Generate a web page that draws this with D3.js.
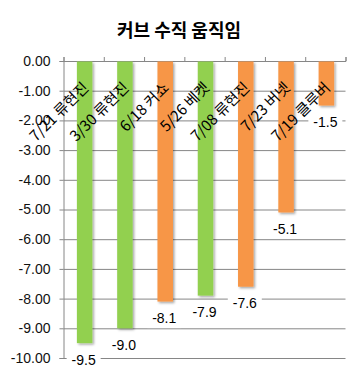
<!DOCTYPE html>
<html><head><meta charset="utf-8">
<script src="https://cdn.jsdelivr.net/npm/d3@7"></script>
<style>
html,body{margin:0;padding:0;background:#fff;}
svg{display:block;}
</style></head>
<body>
<svg id="c" width="360" height="375"></svg>
<script>
const title = "커브 수직 움직임";
const categories = ["7/21 류현진","3/30 류현진","6/18 커쇼","5/26 베켓","7/08 류현진","7/23 버넷","7/19 클루버"];
const values = [-9.5,-9.0,-8.1,-7.9,-7.6,-5.1,-1.5];
const colorKeys = ["g","g","o","g","o","o","o"];
const yTicks = [0,-1,-2,-3,-4,-5,-6,-7,-8,-9,-10];

const palette = {g:"#92D050", o:"#F79646"};
const svg = d3.select("#c");
const L = 63.5, R = 345.5, T = 61, B = 358;

const defs = svg.append("defs");
const f = defs.append("filter").attr("id","sh").attr("x","-30%").attr("y","-10%").attr("width","160%").attr("height","130%");
f.append("feDropShadow").attr("dx",1.5).attr("dy",1.5).attr("stdDeviation",1).attr("flood-color","#000").attr("flood-opacity",0.35);

const x = d3.scaleBand().domain(categories).range([L,R]).padding(0);
const y = d3.scaleLinear().domain([0,-10]).range([T,B]);
const font = "'Liberation Sans', Arial, sans-serif";

// title
svg.append("text").attr("x",179).attr("y",29).attr("text-anchor","middle")
  .attr("dominant-baseline","central")
  .attr("font-family","'Noto Sans CJK KR', sans-serif").attr("font-weight","bold")
  .attr("font-size",18).attr("fill","#000").text(title);

// gridlines
const grid = svg.append("g").attr("transform",`translate(${L},0)`)
  .call(d3.axisRight(y).tickValues(yTicks).tickSize(R-L).tickFormat(""));
grid.select(".domain").remove();
grid.selectAll("line").attr("stroke","#868686").attr("stroke-width",1);

// y axis
const ya = svg.append("g").attr("transform",`translate(${L},0)`)
  .call(d3.axisLeft(y).tickValues(yTicks).tickSize(4).tickPadding(9).tickFormat(d=>d.toFixed(2)));
ya.select(".domain").attr("stroke","#868686");
ya.selectAll("line").attr("stroke","#868686");
ya.selectAll("text").attr("font-family",font).attr("font-size",14).attr("fill","#111");

// top category axis ticks
const xi = d3.scaleLinear().domain([0,categories.length]).range([L,R]);
const xa = svg.append("g").attr("transform",`translate(0,${T})`)
  .call(d3.axisTop(xi).tickValues(d3.range(categories.length+1)).tickSize(4).tickFormat(""));
xa.select(".domain").attr("stroke","#868686");
xa.selectAll("line").attr("stroke","#868686");

// bars
const bw = 15.5;
svg.append("g").selectAll("rect").data(values).join("rect")
  .attr("x",(d,i)=>x(categories[i])+x.bandwidth()/2-bw/2+1)
  .attr("y",y(0)+0.5)
  .attr("width",bw)
  .attr("height",d=>y(d)-y(0)-0.5)
  .attr("fill",(d,i)=>palette[colorKeys[i]])
  .attr("filter","url(#sh)");

// value labels
const vl = svg.append("g").selectAll("g").data(values).join("g")
  .attr("transform",(d,i)=>`translate(${x(categories[i])+x.bandwidth()/2},${y(d)+16.5})`);
vl.append("rect").attr("x",-17).attr("y",-10).attr("width",34).attr("height",20).attr("fill","#fff");
vl.append("text").attr("text-anchor","middle").attr("dominant-baseline","central")
  .attr("font-family",font).attr("font-size",14).attr("fill","#000")
  .text(d=>d.toFixed(1));

// category labels
svg.append("g").selectAll("text").data(categories).join("text")
  .attr("transform",d=>`translate(${x(d)+x.bandwidth()/2+2},85) rotate(-45)`)
  .attr("text-anchor","end").attr("dy","0.36em")
  .attr("font-family","'Noto Sans CJK KR', sans-serif").attr("font-size",15).attr("fill","#000")
  .text(d=>d);
</script>
</body></html>
